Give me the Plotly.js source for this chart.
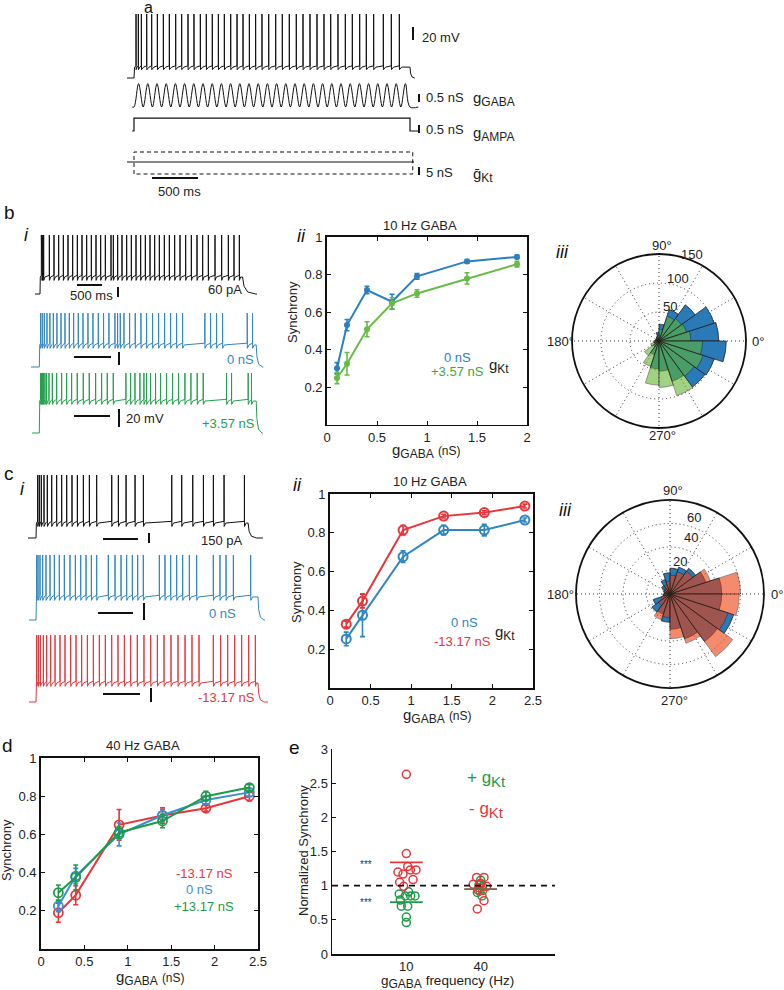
<!DOCTYPE html>
<html><head><meta charset="utf-8">
<script src="https://cdn.plot.ly/plotly-3.0.1.min.js"></script>
<style>html,body{margin:0;padding:0;background:#fff}#fig{width:784px;height:990px}</style>
</head><body><div id="fig"></div>
<script>
// ================= DATA =================
// ---- Panel a (model, 3 s stimulus) ----
const aStimMs = 3000;
const aSpikeTimes = [22,47,80,138,192,254,319,384,453,518,587,652,721,786,851,917,982,1051,1120,1185,1254,1322,1391,1464,1540,1612,1688,1764,1837,1913,1989,2065,2138,2217,2297,2373,2453,2525,2605,2710,2797,2884];
const aVLevels = [-70, -53, 30];          // rest, plateau, spike peak (mV)
const aGabaPeakTimes = [50,150,250,350,450,550,650,750,850,950,1050,1150,1250,1350,1450,1550,1650,1750,1850,1950,2050,2150,2250,2350,2450,2550,2650,2750,2850,2950];
const aGabaPeak = 1.6;                     // nS
const aAmpaLevel = 0.8;                    // nS
const aKtBounds = [6.25, -7.5];            // nS (+/- gKt)

// ---- Panel b i ----
const bBlackStimMs = 4050;
const bBlackSpikes = [27,40,53,73,187,280,373,467,560,653,747,840,933,1027,1120,1213,1307,1420,1467,1553,1640,1733,1827,1920,2013,2107,2200,2293,2387,2487,2587,2693,2800,2913,3027,3140,3253,3367,3500,3633,3767,3880,3987];
const bBlackLevels = [-70, -50, -0.6];
const bModelStimMs = 3000;
const bBlueSpikes = [18,41,69,106,147,194,244,300,355,415,475,539,604,673,742,816,889,963,1046,1083,1120,1171,1249,1327,1406,1484,1567,1650,1733,1816,1899,1982,2290,2369,2452,2535,2876,2949];
const bBlueLevels = [-70, -44, -6.5];
const bGreenSpikes = [18,32,46,60,78,101,134,180,240,309,378,447,525,608,691,779,862,940,1023,1198,1263,1323,1392,1447,1484,1539,1608,1677,1760,1843,1926,2014,2097,2184,2267,2590,2659,2889,2935];
const bGreenLevels = [-70, -32.4, 0.6];

// ---- Panel c i ----
const cStimMs = 3000;
const cBlackSpikes = [24,47,75,113,160,222,292,363,434,509,585,670,755,858,1071,1165,1274,1401,1519,1920,2061,2217,2368,2509,2660,2948];
const cBlackLevels = [-70, -52.4, 4.1];
const cBlueSpikes = [9,27,54,90,135,189,248,315,383,459,532,604,676,748,820,977,1068,1149,1225,1302,1374,1450,1667,1743,1820,1901,1982,2072,2171,2396,2486,2568,2667,2901];
const cBlueLevels = [-70, -42.9, 6.5];
const cRedSpikes = [9,32,59,99,144,198,257,324,392,468,541,617,694,775,856,937,1023,1108,1194,1279,1369,1459,1550,1640,1730,1824,1919,2014,2108,2203,2396,2495,2590,2685,2779,2874,2964];
const cRedLevels = [-70, -47.6, 8.8];

// ---- Panel b ii (10 Hz GABA) ----
const bGaba = [0.1,0.2,0.4,0.65,0.9,1.4,1.9];
const bSync0 = [0.30,0.53,0.717,0.655,0.79,0.87,0.894];
const bSync0Err = [0.03,0.03,0.02,0.04,0.015,0.01,0.01];
const bSyncPlus = [0.248,0.324,0.508,0.646,0.699,0.779,0.855];
const bSyncPlusErr = [0.03,0.06,0.04,0.03,0.02,0.03,0.015];

// ---- Panel c ii (10 Hz GABA) ----
const cGaba = [0.2,0.4,0.9,1.4,1.9,2.4];
const cSyncMinus = [0.329,0.448,0.814,0.886,0.904,0.938];
const cSyncMinusErr = [0.015,0.035,0.025,0.01,0.01,0.01];
const cSync0 = [0.253,0.375,0.677,0.814,0.814,0.866];
const cSync0Err = [0.035,0.11,0.03,0.025,0.03,0.01];

// ---- Panel d (40 Hz GABA) ----
const dGaba = [0.2,0.4,0.9,1.4,1.9,2.4];
const dSyncMinus = [0.19,0.282,0.65,0.699,0.737,0.80];
const dSyncMinusErr = [0.05,0.05,0.08,0.04,0.015,0.025];
const dSync0 = [0.225,0.382,0.60,0.70,0.78,0.82];
const dSync0Err = [0.03,0.04,0.06,0.03,0.02,0.02];
const dSyncPlus = [0.295,0.375,0.61,0.67,0.80,0.845];
const dSyncPlusErr = [0.04,0.065,0.03,0.035,0.025,0.015];

// ---- Panel e (normalized synchrony) ----
const eCategories = ['10','40'];
const eRed10 = [1.20,1.17,1.28,1.23,1.23,1.05,1.09,0.99,1.47,2.63];
const eRed10Jit = [-0.113,-0.045,0.018,0.054,0.13,-0.09,0.09,-0.036,0,0];
const eGreen10 = [0.91,0.877,0.85,0.85,0.85,0.79,0.70,0.70,0.54,0.46];
const eGreen10Jit = [0.03,-0.095,-0.014,0.059,0.117,-0.081,-0.068,0.018,0,0];
const eRed40 = [1.12,1.12,1.02,1.03,0.99,0.935,0.97,0.93,0.78,0.66];
const eRed40Jit = [-0.054,0.045,-0.1,0,0.08,-0.036,-0.023,0.027,0.045,-0.045];
const eGreen40 = [1.08,1.01,0.99,0.925,0.90,0.85,1.03];
const eGreen40Jit = [0,-0.023,0.023,-0.01,-0.045,0.018,0];
const eMeanRed = [1.34, 0.95];
const eMeanGreen = [0.76, 0.95];

// ---- Polar phase histograms (counts per 18 deg bin) ----
const phaseBins = [9,27,45,63,81,99,117,135,153,171,189,207,225,243,261,279,297,315,333,351];
const bPhase0   = [103,100,77,57,29,15,8,6,6,6,8,8,12,25,48,52,73,98,100,116];
const bPhasePlus= [55,50,48,45,20,10,7,6,5,6,10,15,31,46,76,80,99,75,80,75];
const cPhase0   = [44,32,27,24,22,18,13,9,6,5,6,15,19,18,24,30,40,50,57,44];
const cPhaseMinus=[60,36,24,20,16,11,8,6,5,4,5,8,12,23,20,38,44,66,52,59];
const bPhaseTicks = [50,100,150];
const cPhaseTicks = [20,40,60];
const angleLabels = ['0°','90°','180°','270°'];

// ================= STYLE / LAYOUT HELPERS =================
const W = 784, H = 990;
const FONT = '"Liberation Sans", Arial, sans-serif';
const FS = 13;
const BLACK = '#111', BLUE = '#2f86c0', GREENT = '#22a04b', RED = '#e8353a';
const GREEN_LIGHT = '#66bb45', GREEN_D = '#1f9a48';

const traces = [];
const layout = {
  width: W, height: H, margin: {l:0,r:0,t:0,b:0}, autosize:false,
  paper_bgcolor:'#fff', plot_bgcolor:'rgba(0,0,0,0)', showlegend:false,
  font:{family:FONT, size:FS, color:'#222'},
  annotations: [], shapes: []
};
const sub = (s, px) => `<sub><span style="font-size:${px}px">${s}</span></sub>`;

function T(text, x, y, size=FS, color='#222', xa='center', extra={}) {
  layout.annotations.push(Object.assign({text, x:x/W, y:1-y/H, xref:'paper', yref:'paper',
    showarrow:false, xanchor:xa, yanchor:'middle', font:{family:FONT,size,color}}, extra));
}
function L(x0,y0,x1,y1,w=1.5,color=BLACK,dash='solid') {
  layout.shapes.push({type:'line', xref:'paper', yref:'paper', x0:x0/W, x1:x1/W, y0:1-y0/H, y1:1-y1/H,
    line:{color, width:w, dash}});
}

// voltage trace built from spike times
function buildV(sp, dur, pre, post, lv, decay) {
  const [rest, plat, peak] = lv;
  const t = [-pre, 0, 6], v = [rest, rest, plat];
  for (let i = 0; i < sp.length; i++) {
    const s = sp[i], nx = (i+1 < sp.length) ? sp[i+1] : dur;
    t.push(s-0.6, s, s+1.4, Math.min(s+25, (s+nx)/2));
    v.push(plat+2, peak, plat-4, plat);
  }
  t.push(dur, dur+decay*0.12, dur+decay*0.4, dur+decay, dur+post);
  v.push(plat, rest+(plat-rest)*0.45, rest+(plat-rest)*0.12, rest, rest);
  return {t, v};
}

let axN = 0;
function traceAxis(f) {
  axN++;
  const k = axN === 1 ? '' : String(axN);
  layout['xaxis'+k] = {domain:[f.L/W, f.R/W], range:[(f.L-f.x0)/f.xs, (f.R-f.x0)/f.xs],
    visible:false, fixedrange:true, anchor:'y'+k};
  layout['yaxis'+k] = {domain:[1-f.B/H, 1-f.T/H], range:[f.yv-(f.B-f.y0)/f.ys, f.yv+(f.y0-f.T)/f.ys],
    visible:false, fixedrange:true, anchor:'x'+k};
  return {xa:'x'+k, ya:'y'+k};
}
function chartAxis(L_,R_,T_,B_, xr, yr, xt, xtt, yt, ytt, box, xticks='inside') {
  axN++;
  const k = String(axN);
  const common = {showline:true, linecolor:BLACK, linewidth: box?1.8:1.5, showgrid:false, zeroline:false,
    ticks:'inside', ticklen:4, tickwidth:1, tickcolor:BLACK, fixedrange:true,
    tickfont:{family:FONT, size:FS, color:'#222'}, mirror: box ? 'allticks' : false};
  layout['xaxis'+k] = Object.assign({}, common, {domain:[L_/W, R_/W], range:xr, tickmode:'array',
    tickvals:xt, ticktext:xtt, anchor:'y'+k, ticks:xticks});
  layout['yaxis'+k] = Object.assign({}, common, {domain:[1-B_/H, 1-T_/H], range:yr, tickmode:'array',
    tickvals:yt, ticktext:ytt, anchor:'x'+k});
  return {xa:'x'+k, ya:'y'+k};
}
function line(ax, x, y, color, width=1, extra={}) {
  traces.push(Object.assign({type:'scatter', mode:'lines', x, y, xaxis:ax.xa, yaxis:ax.ya,
    line:{color, width}, hoverinfo:'skip'}, extra));
}

// ================= PANEL a =================
const aFx = {L:120, R:420, x0:134, xs:0.092};
const axAV = traceAxis(Object.assign({T:8, B:84, y0:78, ys:0.64, yv:-70}, aFx));
const aV = buildV(aSpikeTimes, aStimMs, 76, 54, aVLevels, 50);
line(axAV, aV.t, aV.v, BLACK, 1);

const axAG = traceAxis(Object.assign({T:80, B:110, y0:107, ys:14.6, yv:0}, aFx));
const gT = [-20, 0], gV = [0, 0];
aGabaPeakTimes.forEach((p, i) => { gT.push(p, p+50); gV.push(aGabaPeak, 0); });
gT.push(aStimMs + 90); gV.push(0);
line(axAG, gT, gV, BLACK, 1, {line:{color:BLACK, width:1, shape:'spline', smoothing:1}});

const axAA = traceAxis(Object.assign({T:112, B:136, y0:131, ys:16, yv:0}, aFx));
line(axAA, [-20,0,0,aStimMs,aStimMs,aStimMs+90], [0,0,aAmpaLevel,aAmpaLevel,0,0], BLACK, 1.2);

const axAK = traceAxis(Object.assign({T:145, B:180, y0:162, ys:1.6, yv:0}, aFx));
line(axAK, [-76, aStimMs+43], [0,0], BLACK, 1);
line(axAK, [0,0,aStimMs+30,aStimMs+30,0], [aKtBounds[1],aKtBounds[0],aKtBounds[0],aKtBounds[1],aKtBounds[1]],
  BLACK, 1, {line:{color:BLACK, width:1, dash:'4px,3px'}});

T('a', 148, 7, 16, BLACK);
L(413,27,413,40,2); T('20 mV', 420, 37, FS, '#222', 'left');
L(419,94,419,102,2); T('0.5 nS', 424, 98, FS, '#222', 'left'); T('g'+sub('GABA',12), 471, 99, 15, '#222', 'left');
L(419,125,419,133,2); T('0.5 nS', 424, 130, FS, '#222', 'left'); T('g'+sub('AMPA',12), 471, 134, 15, '#222', 'left');
L(419,167,419,175,2); T('5 nS', 424, 172, FS, '#222', 'left'); T('ḡ'+sub('Kt',12), 471, 175, 15, '#222', 'left');
L(152,178,198,178,2); T('500 ms', 179, 191, FS);

// ================= PANEL b i =================
const axBK = traceAxis({L:28, R:262, x0:40, xs:0.05, T:228, B:300, y0:294, ys:0.85, yv:-70});
const bK = buildV(bBlackSpikes, bBlackStimMs, 100, 290, bBlackLevels, 260);
line(axBK, bK.t, bK.v, BLACK, 1);
const axBB = traceAxis({L:28, R:268, x0:39.3, xs:0.0723, T:305, B:372, y0:367, ys:0.85, yv:-70});
const bB = buildV(bBlueSpikes, bModelStimMs, 115, 100, bBlueLevels, 90);
line(axBB, bB.t, bB.v, BLUE, 1);
const axBG = traceAxis({L:28, R:268, x0:39.3, xs:0.0723, T:366, B:440, y0:433, ys:0.85, yv:-70});
const bG = buildV(bGreenSpikes, bModelStimMs, 100, 90, bGreenLevels, 80);
line(axBG, bG.t, bG.v, GREENT, 1);

T('b', 9, 213, 19, BLACK);
T('<i>i</i>', 26, 235, 18, BLACK);
L(77,285,102,285,2); L(118,287,118,297,2); T('500 ms', 91, 295, FS);
T('60 pA', 225, 289, FS);
L(74,357,111,357,2); L(119,352,119,365,2); T('0 nS', 240, 359, FS, BLUE);
L(74,416,110,416,2); L(119,409,119,427,2); T('20 mV', 124, 418, FS, '#222', 'left');
T('+3.57 nS', 228, 423, FS, GREENT);

// ================= PANEL c i =================
const axCK = traceAxis({L:24, R:268, x0:36, xs:0.0707, T:468, B:548, y0:538, ys:0.85, yv:-70});
const cK = buildV(cBlackSpikes, cStimMs, 113, 210, cBlackLevels, 120);
line(axCK, cK.t, cK.v, BLACK, 1);
const axCB = traceAxis({L:24, R:270, x0:36, xs:0.074, T:550, B:626, y0:620, ys:0.85, yv:-70});
const cB = buildV(cBlueSpikes, cStimMs, 95, 95, cBlueLevels, 80);
line(axCB, cB.t, cB.v, BLUE, 1);
const axCR = traceAxis({L:24, R:270, x0:36, xs:0.074, T:628, B:708, y0:702, ys:0.85, yv:-70});
const cR = buildV(cRedSpikes, cStimMs, 95, 135, cRedLevels, 80);
line(axCR, cR.t, cR.v, RED, 1);

T('c', 9, 473, 19, BLACK);
T('<i>i</i>', 22, 489, 18, BLACK);
L(103,539,138,539,2); L(149,533,149,543,2); T('150 pA', 222, 540, FS);
L(98,613,133,613,2); L(144,603,144,620,2); T('0 nS', 222, 613, FS, BLUE);
L(103,694,140,694,2); L(151,688,151,702,2); T('-13.17 nS', 226, 697, FS, RED);

// ================= CHART helpers =================
function errLine(ax, x, y, e, color, marker, width=2) {
  traces.push({type:'scatter', mode:'lines+markers', x, y, xaxis:ax.xa, yaxis:ax.ya,
    line:{color, width}, marker, hoverinfo:'skip',
    error_y:{type:'data', array:e, visible:true, color, thickness:1.6, width:2.5}});
}
const tick02 = [0.2,0.4,0.6,0.8,1], tick02t = ['0.2','0.4','0.6','0.8','1'];
const gabaTitle = 'g' + sub('GABA', 12) + ' <span style="font-size:12px">(nS)</span>';

// ================= PANEL b ii =================
const axB2 = chartAxis(327, 527, 237, 424.5, [0,2], [0,1], [0,0.5,1,1.5,2], ['0','0.5','1','1.5','2'], tick02, tick02t, true);
errLine(axB2, bGaba, bSync0, bSync0Err, '#2b7fbf', {symbol:'circle', size:6, color:'#2b7fbf'});
errLine(axB2, bGaba, bSyncPlus, bSyncPlusErr, GREEN_LIGHT, {symbol:'circle', size:6, color:GREEN_LIGHT});
T('10 Hz GABA', 420, 225, FS);
T('<i>ii</i>', 301, 236, 18, BLACK);
T('Synchrony', 292, 312, FS, '#222', 'center', {textangle:-90});
T(gabaTitle, 427, 451, 15);
T('0 nS', 457, 357, FS, '#2b7fbf');
T('+3.57 nS', 457, 371, FS, '#3ea83a');
T('g'+sub('Kt',12), 487, 366, 15, '#222', 'left');

// ================= POLAR helper =================
function polarHist(key, dom, range, ticks, base, over, baseColor, overColor, lblPos, angPos) {
  layout[key] = {
    domain:{x:[dom[0]/W, dom[1]/W], y:[1-dom[3]/H, 1-dom[2]/H]},
    bgcolor:'rgba(0,0,0,0)', bargap:0, barmode:'overlay',
    angularaxis:{rotation:0, direction:'counterclockwise', tickmode:'array',
      tickvals:[0,30,60,90,120,150,180,210,240,270,300,330], showticklabels:false,
      showline:true, linecolor:BLACK, linewidth:1.8, ticks:'', showgrid:true,
      gridcolor:'#333', griddash:'1px,3px', gridwidth:1},
    radialaxis:{range, tickmode:'array', tickvals:ticks, showticklabels:false, angle:78,
      showline:false, ticks:'', showgrid:true, gridcolor:'#333', griddash:'1px,3px', gridwidth:1}
  };
  traces.push({type:'barpolar', r:base, theta:phaseBins, width:18, subplot:key,
    marker:{color:baseColor, line:{color:'#222', width:0.8}}, hoverinfo:'skip'});
  traces.push({type:'barpolar', r:over, theta:phaseBins, width:18, subplot:key,
    marker:{color:overColor, opacity:0.6, line:{color:'#222', width:0.8}}, hoverinfo:'skip'});
  ticks.forEach((v, i) => T(String(v), lblPos[i][0], lblPos[i][1], FS));
  angleLabels.forEach((s, i) => T(s, angPos[i][0], angPos[i][1], FS));
}

// ================= PANEL b iii =================
polarHist('polar', [572,746,254,428], [0,150], bPhaseTicks, bPhase0, bPhasePlus, '#2a7ab8', '#61b42f',
  [[670,306],[678,279],[692,254]], [[758,341],[662,245],[560,341],[662,436]]);
T('<i>iii</i>', 562, 252, 18, BLACK);

// ================= PANEL c ii =================
const axC2 = chartAxis(330, 533, 494, 688, [0,2.5], [0,1], [0,0.5,1,1.5,2,2.5], ['0','0.5','1','1.5','2','2.5'], tick02, tick02t, true);
errLine(axC2, cGaba, cSync0, cSync0Err, BLUE, {symbol:'circle-open', size:9, line:{width:2, color:BLUE}});
errLine(axC2, cGaba, cSyncMinus, cSyncMinusErr, RED, {symbol:'circle-open', size:9, line:{width:2, color:RED}});
T('10 Hz GABA', 430, 481, FS);
T('<i>ii</i>', 297, 485, 18, BLACK);
T('Synchrony', 296, 592, FS, '#222', 'center', {textangle:-90});
T(gabaTitle, 437, 716, 15);
T('0 nS', 464, 622, FS, BLUE);
T('-13.17 nS', 462, 641, FS, RED);
T('g'+sub('Kt',12), 493, 633, 15, '#222', 'left');

// ================= PANEL c iii =================
polarHist('polar2', [576,764,500,688], [0,80], cPhaseTicks, cPhase0, cPhaseMinus, '#2a7ab8', '#ee3f0c',
  [[680,561],[691,537],[694,517]], [[777,594],[673,490],[560,594],[674,700]]);
T('<i>iii</i>', 565, 510, 18, BLACK);

// ================= PANEL d =================
const axD = chartAxis(41, 258, 758, 949, [0,2.5], [0,1], [0,0.5,1,1.5,2,2.5], ['0','0.5','1','1.5','2','2.5'], tick02, tick02t, true);
errLine(axD, dGaba, dSyncMinus, dSyncMinusErr, RED, {symbol:'circle-open', size:9, line:{width:1.8, color:RED}});
errLine(axD, dGaba, dSync0, dSync0Err, '#3a8fd0', {symbol:'circle-open', size:9, line:{width:1.8, color:'#3a8fd0'}});
errLine(axD, dGaba, dSyncPlus, dSyncPlusErr, GREEN_D, {symbol:'circle-open', size:9, line:{width:1.8, color:GREEN_D}});
T('d', 8, 745, 19, BLACK);
T('40 Hz GABA', 143, 745, FS);
T('Synchrony', 6, 850, FS, '#222', 'center', {textangle:-90});
T(gabaTitle, 150, 978, 15);
T('-13.17 nS', 204, 873, FS, RED);
T('0 nS', 199, 889, FS, '#3a8fd0');
T('+13.17 nS', 204, 906, FS, GREEN_D);

// ================= PANEL e =================
const axE = chartAxis(332, 555, 749, 954, [0,3], [0,3], [1,2], eCategories,
  [0,0.5,1,1.5,2,2.5,3], ['0','0.5','1','1.5','2','2.5','3'], false, '');
layout.shapes.push({type:'line', xref:axE.xa, yref:axE.ya, x0:0, x1:3, y0:1, y1:1,
  line:{color:BLACK, width:1.6, dash:'6px,5px'}});
function dots(cat, vals, jit, color) {
  traces.push({type:'scatter', mode:'markers', x:vals.map((v,i)=>cat+jit[i]), y:vals,
    xaxis:axE.xa, yaxis:axE.ya, hoverinfo:'skip',
    marker:{symbol:'circle-open', size:8, line:{width:1.5, color}, color}});
}
dots(1, eGreen10, eGreen10Jit, GREEN_D);
dots(1, eRed10, eRed10Jit, RED);
dots(2, eGreen40, eGreen40Jit, GREEN_D);
dots(2, eRed40, eRed40Jit, RED);
eMeanGreen.forEach((m,i)=>line(axE, [i+1-0.22, i+1+0.22], [m,m], GREEN_D, 1.8));
eMeanRed.forEach((m,i)=>line(axE, [i+1-0.22, i+1+0.22], [m,m], RED, 1.8, {opacity: i===1?0.55:1}));
T('e', 294, 747, 19, BLACK);
T('Normalized Synchrony', 303, 851, FS, '#222', 'center', {textangle:-90});
T('g'+sub('GABA',12)+' frequency (Hz)', 447, 982, 13.5);
T('***', 366, 864, 10, '#333');
T('***', 366, 902, 10, '#333');
T('+ g'+sub('Kt',15), 465, 779, 17, GREEN_D, 'left');
T('- g'+sub('Kt',15), 467, 810, 17, RED, 'left');

Plotly.newPlot('fig', traces, layout, {staticPlot:true, displayModeBar:false});
</script></body></html>
